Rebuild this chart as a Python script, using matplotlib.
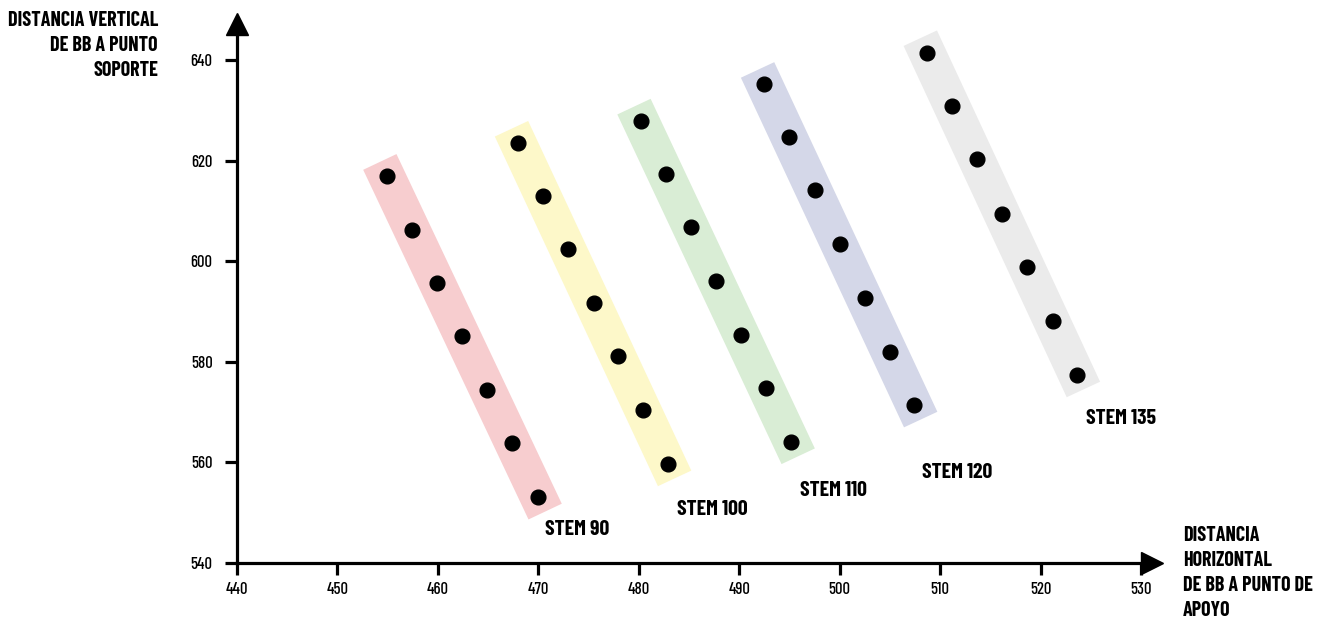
import numpy as np
import matplotlib
matplotlib.use('Agg')
import matplotlib.pyplot as plt

# condensed face like the original; falls back to DejaVu if missing
plt.rcParams['font.family'] = ['Barlow Condensed', 'Roboto Condensed', 'DejaVu Sans']

# Data (horizontal / vertical distance, mm)
stem_names = ['STEM 90', 'STEM 100', 'STEM 110', 'STEM 120', 'STEM 135']
stem90_x = [454.9, 457.4, 459.9, 462.4, 464.9, 467.4, 470.0]
stem90_y = [616.9, 606.2, 595.7, 585.1, 574.4, 563.9, 553.1]
stem100_x = [468.0, 470.5, 473.0, 475.5, 477.9, 480.4, 482.9]
stem100_y = [623.5, 613.0, 602.4, 591.7, 581.2, 570.4, 559.7]
stem110_x = [480.2, 482.7, 485.2, 487.7, 490.2, 492.7, 495.2]
stem110_y = [627.9, 617.3, 606.8, 596.1, 585.3, 574.8, 564.1]
stem120_x = [492.5, 495.0, 497.5, 500.0, 502.5, 505.0, 507.4]
stem120_y = [635.2, 624.7, 614.2, 603.4, 592.7, 581.9, 571.4]
stem135_x = [508.7, 511.2, 513.7, 516.2, 518.7, 521.2, 523.6]
stem135_y = [641.5, 630.9, 620.3, 609.5, 598.9, 588.2, 577.4]

xs = [stem90_x, stem100_x, stem110_x, stem120_x, stem135_x]
ys = [stem90_y, stem100_y, stem110_y, stem120_y, stem135_y]

band_colors = ['#f7cdcf', '#fdf8c9', '#d9edd5', '#d4d7e8', '#ebebeb']
label_pos = [(470.7, 546.6), (483.8, 550.7), (496.1, 554.5), (508.2, 558.1), (524.5, 568.8)]

x_ticks = [440, 450, 460, 470, 480, 490, 500, 510, 520, 530]
y_ticks = [540, 560, 580, 600, 620, 640]

fig = plt.figure(figsize=(13.34, 6.27), dpi=100)
ax = fig.add_axes([0.17766, 0.10207, 0.6859, 0.8596])

for name, x, y, col, (lx, ly) in zip(stem_names, xs, ys, band_colors, label_pos):
    x = np.array(x)
    y = np.array(y)
    # coloured band running a little past the first and last point
    step_x = (x[-1] - x[0]) / (len(x) - 1)
    step_y = (y[-1] - y[0]) / (len(y) - 1)
    ext = 0.27
    ax.plot([x[0] - ext * step_x, x[-1] + ext * step_x],
            [y[0] - ext * step_y, y[-1] + ext * step_y],
            color=col, linewidth=26.5, solid_capstyle='butt', zorder=1)
    ax.plot(x, y, 'o', color='black', markersize=10.6, zorder=3)
    ax.text(lx, ly, name, fontsize=15.5, fontweight='bold', ha='left', va='center')

ax.set_xlim(440, 531.1)
ax.set_ylim(540, 647.2)
ax.set_xticks(x_ticks)
ax.set_yticks(y_ticks)
ax.tick_params(axis='both', length=8.5, width=2.3, labelsize=12, direction='out')
ax.tick_params(axis='x', pad=5)
ax.tick_params(axis='y', pad=9)
for lab in ax.get_xticklabels() + ax.get_yticklabels():
    lab.set_fontweight('medium')

for side in ['top', 'right']:
    ax.spines[side].set_visible(False)
for side in ['left', 'bottom']:
    ax.spines[side].set_linewidth(2.3)

# arrow heads at the ends of the axes
ax.plot(1, 0, '>', color='black', markersize=16, transform=ax.transAxes, clip_on=False)
ax.plot(0, 1, '^', color='black', markersize=16, transform=ax.transAxes, clip_on=False)

fig.text(158 / 1334, 1 - 11 / 627, 'DISTANCIA VERTICAL\nDE BB A PUNTO\nSOPORTE',
         fontsize=14.5, fontweight='bold', ha='right', va='top', linespacing=1.4)
fig.text(1183 / 1334, 1 - 526 / 627, 'DISTANCIA\nHORIZONTAL\nDE BB A PUNTO DE\nAPOYO',
         fontsize=14.5, fontweight='bold', ha='left', va='top', linespacing=1.4)

plt.savefig('out.png', dpi=100, facecolor='white')
plt.close()
